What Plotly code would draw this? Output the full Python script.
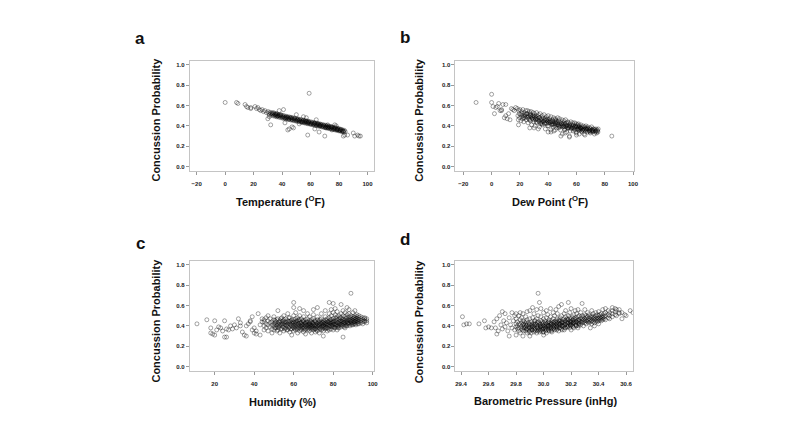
import plotly.graph_objects as go

# ---------------- data ----------------
# Panel a: Temperature (F) vs concussion probability
temp_sparse = [0, 8, 9, 14, 15, 16, 18, 18, 21, 22, 23, 24, 25, 26, 27, 28, 29, 30, 31, 32,
               33, 34, 35, 36, 37, 38, 39, 41, 42, 44, 45, 47, 48, 50, 52, 55, 57, 58, 59, 63,
               64, 66, 70, 72, 75, 77, 78, 83, 84, 86, 90, 91, 93, 94, 95]
prob_a_sparse = [.63, .63, .62, .61, .59, .58, .58, .57, .59, .57, .58, .56, .55, .56, .54, .55, .53, .47, .49, .41,
                 .52, .53, .51, .52, .50, .55, .51, .56, .43, .36, .37, .39, .38, .51, .42, .49, .48, .31, .72, .37,
                 .46, .34, .30, .41, .36, .41, .40, .30, .31, .31, .33, .30, .31, .30, .30]
temp_band = [30.2, 30.6, 31.1, 31.5, 32.0, 32.4, 32.9, 33.3, 33.8, 34.2,
             34.6, 35.1, 35.5, 35.9, 36.3, 36.8, 37.2, 37.6, 38.0, 38.4,
             38.9, 39.3, 39.7, 40.1, 40.5, 40.9, 41.3, 41.7, 42.1, 42.5,
             42.9, 43.3, 43.7, 44.1, 44.5, 44.9, 45.3, 45.7, 46.1, 46.5,
             46.9, 47.3, 47.7, 48.1, 48.5, 48.9, 49.3, 49.7, 50.1, 50.5,
             50.9, 51.3, 51.7, 52.1, 52.5, 52.9, 53.3, 53.7, 54.1, 54.5,
             54.9, 55.3, 55.7, 56.1, 56.5, 56.9, 57.3, 57.7, 58.1, 58.5,
             58.9, 59.3, 59.7, 60.1, 60.5, 60.9, 61.3, 61.7, 62.1, 62.5,
             62.9, 63.3, 63.7, 64.1, 64.5, 64.9, 65.3, 65.7, 66.1, 66.5,
             66.9, 67.3, 67.7, 68.1, 68.5, 68.9, 69.3, 69.7, 70.1, 70.5,
             70.9, 71.3, 71.7, 72.1, 72.5, 72.9, 73.3, 73.7, 74.1, 74.5,
             74.9, 75.3, 75.7, 76.1, 76.5, 76.9, 77.3, 77.7, 78.1, 78.5,
             78.9, 79.3, 79.7, 80.1, 80.5, 80.9, 81.3, 81.7, 82.1, 82.5,
             82.9, 83.3, 83.8, 84.3]
prob_a_band = [.541, .522, .509, .534, .520, .503, .529, .514, .498, .522,
               .507, .494, .519, .503, .489, .515, .498, .486, .510, .495,
               .481, .506, .490, .477, .503, .487, .472, .498, .483, .469,
               .494, .479, .466, .490, .475, .461, .487, .472, .458, .483,
               .468, .455, .479, .464, .451, .476, .461, .447, .471, .457,
               .444, .468, .453, .440, .464, .449, .436, .460, .446, .433,
               .456, .442, .429, .453, .438, .425, .449, .434, .421, .445,
               .431, .418, .441, .427, .414, .437, .423, .410, .433, .419,
               .406, .430, .415, .402, .426, .412, .399, .422, .408, .395,
               .418, .404, .391, .414, .400, .387, .410, .396, .383, .406,
               .392, .379, .402, .388, .375, .398, .384, .371, .394, .380,
               .368, .390, .376, .364, .386, .372, .360, .382, .368, .356,
               .377, .364, .352, .372, .359, .348, .367, .355, .344, .361,
               .350, .340, .356, .345]
temp_core = [35.7, 37.9, 39.1, 40.6, 41.9, 43.1, 44.6, 45.9, 47.0, 48.6,
             49.9, 51.0, 52.2, 53.5, 54.7, 55.8, 56.7, 57.9, 58.7, 60.0,
             61.1, 62.0, 63.0, 64.2, 65.0, 66.2, 67.0, 68.3, 69.1, 70.3,
             71.2, 72.3, 73.1, 74.3, 75.1, 76.3, 77.1, 78.3, 79.1, 80.3,
             81.1, 82.3, 83.1, 36.4, 42.7, 46.8, 50.8, 54.2, 58.3, 62.7,
             66.7, 70.7, 74.7, 78.7, 43.9, 57.1, 65.6, 71.9]
prob_a_core = [.512, .503, .499, .488, .480, .486, .468, .479, .461, .470,
               .452, .459, .455, .441, .450, .436, .445, .428, .438, .420,
               .429, .415, .423, .409, .418, .401, .411, .396, .404, .389,
               .397, .382, .391, .375, .385, .369, .378, .362, .370, .355,
               .363, .349, .346, .497, .475, .476, .463, .439, .437, .425,
               .404, .381, .389, .366, .483, .441, .416, .386]

# Panel b: Dew point (F) vs concussion probability
dew_sparse = [-11, 0, 0, 1, 2, 3, 4, 5, 6, 7, 7, 8, 9, 10, 10, 11, 12, 13, 14, 15,
              16, 17, 19, 85, 27, 30, 33, 40, 42, 45, 49, 52, 55, 60, 62, 66]
prob_b_sparse = [.63, .71, .63, .59, .52, .58, .59, .62, .55, .55, .56, .61, .48, .61, .50, .47, .52, .46, .57, .56,
                 .55, .58, .41, .30, .38, .38, .37, .34, .34, .36, .30, .33, .29, .31, .32, .31]
dew_band = [18.2, 18.6, 18.9, 19.1, 19.5, 19.8, 20.0, 20.4, 20.7, 21.2,
            21.5, 21.9, 22.1, 22.4, 22.8, 23.0, 23.3, 23.7, 24.2, 24.5,
            24.8, 25.1, 25.4, 25.8, 26.0, 26.3, 26.7, 27.1, 27.4, 27.8,
            28.0, 28.3, 28.6, 29.1, 29.4, 29.8, 30.0, 30.3, 30.7, 31.1,
            31.4, 31.8, 32.0, 32.3, 32.7, 33.1, 33.4, 33.8, 34.0, 34.3,
            34.7, 35.1, 35.4, 35.8, 36.0, 36.3, 36.7, 37.1, 37.4, 37.8,
            38.0, 38.3, 38.7, 39.1, 39.4, 39.8, 40.0, 40.3, 40.7, 41.1,
            41.4, 41.8, 42.0, 42.3, 42.7, 43.1, 43.4, 43.8, 44.0, 44.3,
            44.7, 45.1, 45.4, 45.8, 46.0, 46.3, 46.7, 47.1, 47.4, 47.8,
            48.0, 48.3, 48.7, 49.1, 49.4, 49.8, 50.0, 50.3, 50.7, 51.1,
            51.4, 51.8, 52.0, 52.3, 52.7, 53.1, 53.4, 53.8, 54.0, 54.3,
            54.7, 55.1, 55.4, 55.8, 56.0, 56.3, 56.7, 57.1, 57.4, 57.8,
            58.0, 58.3, 58.7, 59.1, 59.4, 59.8, 60.0, 60.3, 60.7, 61.1,
            61.4, 61.8, 62.0, 62.3, 62.7, 63.1, 63.4, 63.8, 64.0, 64.3,
            64.7, 65.1, 65.4, 65.8, 66.0, 66.3, 66.7, 67.1, 67.4, 67.8,
            68.0, 68.3, 68.7, 69.1, 69.4, 69.8, 70.0, 70.3, 70.7, 71.1,
            71.4, 71.8, 72.0, 72.3, 72.7, 73.1, 73.4, 73.8, 74.0, 74.3,
            74.7, 75.0, 75.2, 75.4]
prob_b_band = [.57, .50, .46, .55, .52, .48, .56, .51, .45, .54,
               .49, .47, .56, .50, .44, .53, .48, .51, .55, .46,
               .49, .52, .55, .43, .50, .47, .54, .52, .45, .49,
               .54, .41, .47, .50, .53, .44, .48, .52, .40, .46,
               .50, .53, .43, .47, .49, .51, .45, .39, .48, .52,
               .42, .46, .44, .50, .41, .48, .45, .51, .43, .47,
               .37, .45, .49, .42, .47, .44, .50, .40, .45, .47,
               .43, .36, .49, .44, .41, .46, .42, .48, .35, .44,
               .40, .47, .42, .45, .38, .43, .48, .41, .45, .39,
               .47, .42, .36, .44, .40, .46, .32, .41, .43, .45,
               .39, .37, .42, .46, .40, .34, .41, .44, .38, .43,
               .40, .30, .42, .39, .44, .37, .41, .39, .43, .35,
               .41, .38, .43, .36, .40, .42, .33, .39, .41, .37,
               .42, .39, .40, .36, .38, .41, .37, .34, .39, .36,
               .40, .37, .32, .39, .38, .35, .40, .36, .38, .34,
               .39, .37, .35, .36, .38, .33, .37, .35, .39, .36,
               .34, .37, .35, .37, .32, .36, .34, .37, .35, .33,
               .36, .35, .34, .37]
dew_core = [26.5, 28.8, 30.9, 32.5, 34.5, 36.5, 38.5, 40.5, 42.5, 44.5,
            46.5, 48.5, 50.5, 52.5, 54.5, 56.5, 58.5, 60.5, 62.5, 64.5,
            29.6, 33.6, 37.6, 41.6, 45.6, 49.6, 53.6, 57.6, 61.6, 66.5,
            31.6, 35.6, 39.6, 43.6, 47.6, 51.6, 55.6, 59.6, 63.6, 69.5,
            24.6, 27.6, 44.9, 52.9, 61.0,
            21.5, 23.5, 25.5, 27.5, 29.5, 31.5, 33.5, 35.5, 37.5, 39.5,
            41.5, 43.5, 45.5, 47.5, 49.5, 51.5, 53.5, 55.5, 57.5, 59.5,
            61.5, 63.5, 65.5, 67.5, 69.5, 71.5, 73.5,
            22.7, 26.9, 30.4, 34.9, 38.9, 42.9, 46.9, 50.9, 54.9, 58.9, 62.9, 66.9, 70.9]
prob_b_core = [.49, .48, .47, .46, .46, .44, .43, .43, .42, .42,
               .41, .40, .39, .39, .38, .38, .37, .37, .37, .36,
               .50, .48, .46, .45, .44, .42, .40, .40, .38, .37,
               .44, .42, .40, .39, .38, .36, .35, .34, .35, .34,
               .52, .50, .46, .43, .40,
               .52, .50, .48, .51, .46, .48, .44, .47, .42, .45,
               .44, .41, .43, .40, .42, .41, .38, .40, .38, .39,
               .36, .38, .36, .37, .35, .35, .35,
               .48, .46, .49, .43, .46, .44, .43, .40, .39, .39, .38, .37, .36]

# Panel c: Humidity (%) vs concussion probability
hum_sparse = [11, 16, 18, 18, 19, 20, 20, 21, 23, 24, 25, 25, 26, 26, 27, 28, 30, 31, 32, 33,
              34, 35, 36, 37, 38, 39, 40, 40, 41, 41, 42, 43, 44, 36, 38, 29, 22, 33, 39, 43, 44]
prob_c_sparse = [.42, .46, .38, .33, .32, .45, .31, .36, .38, .35, .45, .29, .29, .37, .36, .40, .41, .38, .47, .40,
                 .34, .31, .30, .42, .44, .49, .38, .33, .35, .32, .52, .31, .47, .40, .45, .37, .39, .43, .36, .41, .44]
hum_levels = [45, 46, 47, 48, 49, 50, 51, 52, 53, 54, 55, 56, 57, 58, 59, 60, 61, 62, 63, 64,
              65, 66, 67, 68, 69, 70, 71, 72, 73, 74, 75, 76, 77, 78, 79, 80, 81, 82, 83, 84,
              85, 86, 87, 88, 89, 90, 91, 92, 93, 94, 95, 96, 97]
prob_c_by_level = [
    [.46, .40, .36, .44], [.42, .48, .38], [.45, .35, .41, .50], [.43, .39, .47],
    [.37, .44, .41, .33], [.46, .40, .42, .36, .49], [.44, .38, .41], [.55, .47, .42, .36, .39],
    [.45, .40, .33, .43], [.48, .41, .37, .44], [.43, .46, .39, .35, .50], [.41, .44, .38, .47],
    [.52, .42, .36, .40, .45], [.39, .44, .48, .34, .42], [.46, .40, .37, .43, .31],
    [.63, .50, .44, .41, .38, .35, .46, .58], [.42, .47, .39, .36, .44, .53],
    [.45, .40, .43, .37, .33, .48], [.41, .46, .38, .44, .35, .50, .57], [.43, .39, .47, .42, .36, .40],
    [.45, .41, .38, .44, .34, .49, .55], [.42, .37, .46, .40, .43, .32], [.44, .39, .41, .47, .36, .52],
    [.40, .45, .38, .42, .35, .49, .43], [.41, .37, .44, .39, .46, .33],
    [.43, .40, .38, .47, .42, .36, .51, .56], [.39, .44, .41, .37, .45, .34],
    [.42, .38, .46, .40, .35, .49, .58], [.40, .43, .37, .45, .41, .33], [.44, .39, .42, .36, .47, .52],
    [.41, .38, .45, .40, .43, .35, .30], [.43, .46, .39, .41, .37, .55, .49], [.40, .44, .42, .38, .47, .35],
    [.45, .41, .63, .43, .39, .52, .36, .48], [.42, .46, .40, .44, .37, .50, .56],
    [.44, .41, .47, .39, .43, .53, .36, .62], [.42, .45, .40, .48, .38, .51, .57],
    [.43, .46, .41, .39, .49, .54, .36], [.44, .40, .47, .42, .50, .38], [.45, .41, .43, .48, .39, .52, .61],
    [.29, .44, .47, .42, .40, .50, .55], [.43, .46, .41, .49, .38, .53], [.44, .48, .42, .45, .51, .40, .58],
    [.46, .43, .49, .41, .52, .56], [.72, .45, .48, .42, .50, .44], [.47, .43, .49, .45, .53, .41],
    [.46, .44, .48, .50, .42, .55], [.45, .47, .43, .49, .51], [.46, .44, .48, .42, .50],
    [.47, .45, .43, .49], [.46, .48, .44, .42], [.48, .45, .47, .44], [.47, .45, .43],
]
hum_core_levels = [50.5, 51.5, 52.5, 53.5, 54.5, 55.5, 56.5, 57.5, 58.5, 59.5,
                   60.5, 61.5, 62.5, 63.5, 64.5, 65.5, 66.5, 67.5, 68.5, 69.5,
                   70.5, 71.5, 72.5, 73.5, 74.5, 75.5, 76.5, 77.5, 78.5, 79.5,
                   80.5, 81.5, 82.5, 83.5, 84.5, 85.5, 86.5, 87.5, 88.5, 89.5,
                   90.5, 91.5, 92.5]
prob_c_core = [
    [.38, .43, .45], [.40, .46, .35], [.41, .44, .38], [.37, .42, .47], [.39, .45, .42],
    [.41, .37, .44], [.36, .43, .40], [.38, .44, .48], [.41, .37, .45], [.42, .39, .44],
    [.40, .43, .37], [.38, .41, .45], [.42, .39, .46], [.40, .37, .43], [.45, .38, .41],
    [.39, .43, .36], [.41, .44, .38], [.37, .42, .40], [.44, .39, .41], [.40, .43, .38],
    [.41, .37, .45], [.43, .40, .36], [.39, .44, .41], [.42, .38, .46], [.40, .43, .37],
    [.44, .39, .42], [.38, .42, .45], [.41, .37, .44], [.43, .40, .46], [.39, .44, .41],
    [.42, .38, .45], [.44, .41, .47], [.40, .43, .38], [.45, .42, .48], [.41, .44, .46],
    [.43, .39, .45], [.44, .47, .40], [.42, .46, .43], [.45, .40, .47], [.43, .46, .41],
    [.44, .48, .42], [.45, .41, .47], [.44, .46, .42],
]

# Panel d: Barometric pressure (inHg) vs concussion probability
pres_sparse = [29.41, 29.42, 29.44, 29.46, 29.53, 29.57, 29.58, 29.60, 29.62, 29.64,
               29.65, 29.66, 29.66, 29.67, 29.68, 29.69, 29.70, 29.70, 29.71, 29.72,
               29.72, 29.73, 29.74, 29.75, 29.75, 29.76, 29.77, 29.77, 29.78, 29.79, 29.79]
prob_d_sparse = [.49, .41, .42, .42, .42, .45, .38, .39, .38, .44,
                 .38, .32, .47, .35, .50, .41, .54, .37, .45, .52,
                 .39, .43, .35, .30, .48, .41, .53, .38, .45, .36, .50]
pres_levels = [29.80, 29.81, 29.82, 29.83, 29.84, 29.85, 29.86, 29.87, 29.88, 29.89,
               29.90, 29.91, 29.92, 29.93, 29.94, 29.95, 29.96, 29.97, 29.98, 29.99,
               30.00, 30.01, 30.02, 30.03, 30.04, 30.05, 30.06, 30.07, 30.08, 30.09,
               30.10, 30.11, 30.12, 30.13, 30.14, 30.15, 30.16, 30.17, 30.18, 30.19,
               30.20, 30.21, 30.22, 30.23, 30.24, 30.25, 30.26, 30.27, 30.28, 30.29,
               30.30, 30.31, 30.32, 30.33, 30.34, 30.35, 30.36, 30.37, 30.38, 30.39,
               30.40, 30.41, 30.42, 30.43, 30.44, 30.45, 30.47, 30.48, 30.50, 30.52,
               30.53, 30.55, 30.57, 30.59, 30.60, 30.63, 30.65]
prob_d_by_level = [
    [.42, .39, .31, .47, .52], [.37, .44, .40], [.50, .35, .42, .38], [.41, .46, .33, .53],
    [.39, .37, .43, .48], [.36, .41, .30, .45, .52], [.40, .38, .44], [.35, .42, .49, .39],
    [.37, .41, .33, .46, .54], [.39, .36, .43],
    [.30, .38, .42, .47, .35, .55], [.40, .37, .44, .33], [.36, .41, .48, .39, .58], [.38, .34, .43, .40, .52],
    [.37, .42, .45, .35], [.39, .33, .41, .47, .56], [.72, .36, .40, .44, .38, .50], [.63, .37, .41, .34, .43],
    [.39, .35, .45, .40, .49, .57], [.38, .42, .36, .44],
    [.40, .34, .43, .38, .47, .53, .31], [.37, .41, .39, .45], [.42, .36, .40, .48, .33, .55],
    [.39, .43, .37, .41, .51], [.38, .44, .40, .35, .46], [.41, .37, .43, .39, .49, .57],
    [.40, .36, .45, .42, .34], [.38, .43, .41, .47, .53], [.42, .39, .44, .36, .50], [.40, .45, .38, .43, .56],
    [.41, .37, .44, .47, .39, .52], [.43, .40, .46, .35, .59], [.42, .45, .38, .48, .41],
    [.44, .40, .43, .50, .37, .61], [.41, .46, .39, .44], [.43, .47, .40, .52, .36], [.42, .45, .38, .49, .55],
    [.44, .41, .47, .39], [.63, .43, .46, .40, .50], [.42, .45, .48, .38, .53],
    [.44, .41, .47, .43, .36, .57], [.45, .42, .49, .40], [.43, .47, .44, .51, .38], [.46, .42, .48, .55],
    [.44, .40, .47, .52], [.45, .43, .49, .38, .56], [.46, .42, .50, .44], [.44, .48, .41, .53],
    [.62, .45, .47, .43, .50], [.46, .44, .49, .40],
    [.47, .43, .45, .51, .56], [.45, .48, .42, .50], [.46, .44, .49, .53], [.47, .43, .45, .51],
    [.46, .49, .44, .38], [.48, .45, .50, .42, .55], [.47, .44, .49, .52], [.46, .48, .43, .40],
    [.47, .50, .45, .53], [.48, .44, .51, .46],
    [.47, .50, .45, .42, .54], [.48, .46, .51], [.49, .45, .52, .47], [.48, .50, .46, .56],
    [.49, .47, .52], [.50, .46, .53, .57], [.51, .48, .55], [.50, .53, .47], [.52, .49, .58, .55],
    [.51, .54, .57], [.50, .56], [.53, .52, .56], [.47, .53], [.51], [.50], [.55], [.53],
]
pres_core_levels = [29.855, 29.875, 29.895, 29.915, 29.935, 29.955, 29.975, 29.995, 30.015, 30.035, 30.055,
                    30.075, 30.095, 30.115, 30.135, 30.155, 30.175, 30.195, 30.215, 30.235, 30.255]
prob_d_core = [
    [.38, .42, .35], [.40, .37, .44], [.41, .34, .38], [.36, .42, .39], [.41, .36, .45],
    [.38, .43, .35], [.39, .36, .42], [.40, .34, .37], [.43, .38, .35], [.36, .40, .44],
    [.42, .38, .35], [.40, .37, .44], [.39, .42, .36], [.38, .42, .45], [.40, .36, .43],
    [.41, .45, .38], [.43, .39, .46], [.40, .44, .41], [.43, .39, .46], [.41, .44, .40],
    [.42, .46, .40],
]

# axis tick values
y_ticks = [0.0, 0.2, 0.4, 0.6, 0.8, 1.0]
temp_ticks = [-20, 0, 20, 40, 60, 80, 100]
dew_ticks = [-20, 0, 20, 40, 60, 80, 100]
hum_ticks = [20, 40, 60, 80, 100]
pres_ticks = [29.4, 29.6, 29.8, 30.0, 30.2, 30.4, 30.6]

# ---------------- assemble ----------------
assert len(temp_sparse) == len(prob_a_sparse)
assert len(temp_band) == len(prob_a_band)
assert len(temp_core) == len(prob_a_core)
assert len(dew_sparse) == len(prob_b_sparse)
assert len(dew_band) == len(prob_b_band)
assert len(dew_core) == len(prob_b_core)
assert len(hum_sparse) == len(prob_c_sparse)
assert len(hum_levels) == len(prob_c_by_level)
assert len(hum_core_levels) == len(prob_c_core)
assert len(pres_sparse) == len(prob_d_sparse)
assert len(pres_levels) == len(prob_d_by_level)
assert len(pres_core_levels) == len(prob_d_core)


def expand(levels, groups):
    xs, ys = [], []
    for lv, g in zip(levels, groups):
        for v in g:
            xs.append(lv)
            ys.append(v)
    return xs, ys


hx, hy = expand(hum_levels, prob_c_by_level)
hx2, hy2 = expand(hum_core_levels, prob_c_core)
px1, py1 = expand(pres_levels, prob_d_by_level)
px2, py2 = expand(pres_core_levels, prob_d_core)

# The page body has an 8px margin: figure is 784x420, reference pixel coords shifted by 8.
OFF = 8
W, H = 800 - 2 * OFF, 436 - 2 * OFF
FONT = "Liberation Sans, Arial, sans-serif"


def fx(x):
    return (x - OFF) / W


def fy(y):
    return 1 - (y - OFF) / H


panels = [
    dict(x=temp_sparse + temp_band + temp_core, y=prob_a_sparse + prob_a_band + prob_a_core,
         dx=(191, 376.7), dy=(60.7, 170.7), rng=[-24.8, 104.8], ticks=temp_ticks, fmt="d",
         xtitle="Temperature (<sup>O</sup>F)", tpos=(282, 201.5), ypos=(156.5, 120),
         letter="a", lpos=(141, 39)),
    dict(x=dew_sparse + dew_band + dew_core, y=prob_b_sparse + prob_b_band + prob_b_core,
         dx=(458.3, 638.3), dy=(60.7, 170.7), rng=[-25.6, 100.9], ticks=dew_ticks, fmt="d",
         xtitle="Dew Point (<sup>O</sup>F)", tpos=(553.5, 201.5), ypos=(421.5, 120),
         letter="b", lpos=(408, 38)),
    dict(x=hum_sparse + hx + hx2, y=prob_c_sparse + hy + hy2,
         dx=(191, 376), dy=(260.7, 370.7), rng=[7.4, 100.5], ticks=hum_ticks, fmt="d",
         xtitle="Humidity (%)", tpos=(285, 401.5), ypos=(156.5, 321),
         letter="c", lpos=(141, 243)),
    dict(x=pres_sparse + px1 + px2, y=prob_d_sparse + py1 + py2,
         dx=(458.3, 636.7), dy=(260.7, 370.7), rng=[29.359, 30.648], ticks=pres_ticks, fmt=".1f",
         xtitle="Barometric Pressure (inHg)", tpos=(549.3, 400.5), ypos=(421.5, 321.5),
         letter="d", lpos=(408, 239)),
]

fig = go.Figure()
layout = dict(
    width=W, height=H, margin=dict(l=0, r=0, t=0, b=0),
    paper_bgcolor="white", plot_bgcolor="white", showlegend=False,
    font=dict(family=FONT, color="#222"),
)
annotations = []
tickfont = dict(family=FONT, size=6, color="#222", weight="bold")
for i, p in enumerate(panels, start=1):
    sfx = "" if i == 1 else str(i)
    fig.add_trace(go.Scatter(
        x=p["x"], y=p["y"], mode="markers", xaxis="x" + sfx, yaxis="y" + sfx,
        marker=dict(symbol="circle-open", size=4, color="rgba(0,0,0,0.45)", line=dict(width=0.8)),
        hoverinfo="skip",
    ))
    x0, x1 = p["dx"]
    y0, y1 = p["dy"]
    layout["xaxis" + sfx] = dict(
        domain=[fx(x0), fx(x1)], range=p["rng"], anchor="y" + sfx,
        tickvals=p["ticks"], tickformat=p["fmt"],
        showgrid=False, zeroline=False, showline=True, mirror=True,
        linecolor="#c4c4c4", linewidth=1, ticks="outside", ticklen=3,
        tickcolor="#9a9a9a", tickwidth=1, tickfont=tickfont, ticklabelstandoff=4,
    )
    layout["yaxis" + sfx] = dict(
        domain=[fy(y1), fy(y0)], range=[-0.04, 1.04], anchor="x" + sfx,
        tickvals=y_ticks, tickformat=".1f",
        showgrid=False, zeroline=False, showline=True, mirror=True,
        linecolor="#c4c4c4", linewidth=1, ticks="outside", ticklen=3,
        tickcolor="#9a9a9a", tickwidth=1, tickfont=tickfont,
    )
    annotations.append(dict(
        text=p["xtitle"], x=fx(p["tpos"][0]), y=fy(p["tpos"][1]), xref="paper", yref="paper",
        xanchor="center", yanchor="middle", showarrow=False,
        font=dict(family=FONT, size=11, color="#111", weight="bold"),
    ))
    annotations.append(dict(
        text="Concussion Probability", x=fx(p["ypos"][0]), y=fy(p["ypos"][1]),
        xref="paper", yref="paper", xanchor="center", yanchor="middle", textangle=-90,
        showarrow=False, font=dict(family=FONT, size=11, color="#111", weight="bold"),
    ))
    annotations.append(dict(
        text=p["letter"], x=fx(p["lpos"][0]), y=fy(p["lpos"][1]), xref="paper", yref="paper",
        xanchor="center", yanchor="middle", showarrow=False,
        font=dict(family=FONT, size=17, color="#111", weight="bold"),
    ))

layout["annotations"] = annotations
fig.update_layout(**layout)
fig.write_html("out.html")
